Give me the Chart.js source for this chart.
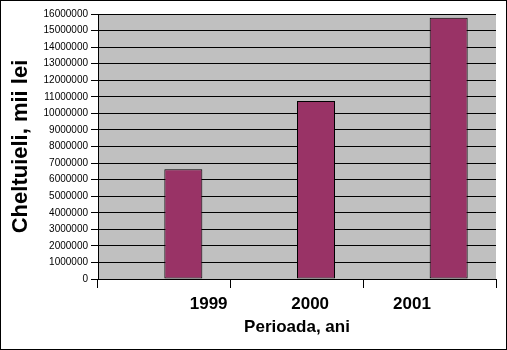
<!DOCTYPE html>
<html>
<head>
<meta charset="utf-8">
<script src="https://cdn.jsdelivr.net/npm/chart.js@4/dist/chart.umd.min.js"></script>
<style>
    html, body { margin: 0; padding: 0; background: #fff; }
    #wrap { width: 507px; height: 350px; box-sizing: border-box; border: 1px solid #000; }
</style>
</head>
<body>
<div id="wrap"><canvas id="costChart"></canvas></div>
<script>
// Date
const years = ['1999', '2000', '2001'];
const spending = [6620000, 10750000, 15770000];
const spacer = [null, null, null];
const yMax = 16000000;
const yStep = 1000000;

Chart.defaults.font.family = "'Liberation Sans', Arial, sans-serif";
Chart.defaults.color = '#000';

// fundal gri pentru zona graficului
const plotBackground = {
    id: 'plotBackground',
    beforeDraw(chart) {
        const { ctx, chartArea } = chart;
        ctx.save();
        ctx.fillStyle = '#C0C0C0';
        ctx.fillRect(chartArea.left, chartArea.top, chartArea.right - chartArea.left, chartArea.bottom - chartArea.top);
        ctx.restore();
    }
};

// pozitia etichetelor pe axa de jos (fractie din latimea zonei)
const labelSpots = [0.278, 0.533, 0.789];

new Chart(document.getElementById('costChart'), {
    type: 'bar',
    data: {
        labels: years,
        datasets: [{
            label: '',
            data: spacer
        }, {
            label: 'Cheltuieli',
            data: spending,
            backgroundColor: '#993366',
            borderColor: '#000',
            borderWidth: 1,
            borderSkipped: false
        }]
    },
    options: {
        responsive: true,
        maintainAspectRatio: false,
        animation: false,
        layout: { padding: { top: 13, right: 10, bottom: 0, left: 0 } },
        categoryPercentage: 0.573,
        barPercentage: 1,
        plugins: {
            legend: { display: false },
            tooltip: { enabled: false }
        },
        scales: {
            x: {
                weight: 0,
                grid: { color: '#000', drawOnChartArea: false, tickLength: 9 },
                border: { color: '#000' },
                ticks: { display: false },
                afterFit: axis => { axis.height = 9; }
            },
            x2: {
                type: 'linear',
                position: 'bottom',
                weight: 1,
                min: 0,
                max: 1,
                offset: false,
                grid: { display: false, drawTicks: false, offset: false },
                border: { display: false },
                afterBuildTicks: axis => { axis.ticks = labelSpots.map(v => ({ value: v })); },
                ticks: {
                    padding: 6,
                    maxRotation: 0,
                    autoSkip: false,
                    font: { size: 17, weight: 'bold' },
                    callback: (value, index) => years[index]
                },
                title: {
                    display: true,
                    text: 'Perioada, ani',
                    font: { size: 17, weight: 'bold' },
                    padding: { top: 3, bottom: 11 }
                },
                afterFit: axis => { axis.height = 61; }
            },
            y: {
                min: 0,
                max: yMax,
                grid: { color: '#000', tickLength: 7 },
                border: { color: '#000' },
                ticks: {
                    stepSize: yStep,
                    padding: 3,
                    font: { size: 10 },
                    callback: value => String(value)
                },
                title: {
                    display: true,
                    text: 'Cheltuieli, mii lei',
                    font: { size: 22, weight: 'bold' },
                    padding: { top: 7, bottom: 0 }
                },
                afterFit: axis => { axis.width = 97; }
            }
        }
    },
    plugins: [plotBackground]
});
</script>
</body>
</html>
